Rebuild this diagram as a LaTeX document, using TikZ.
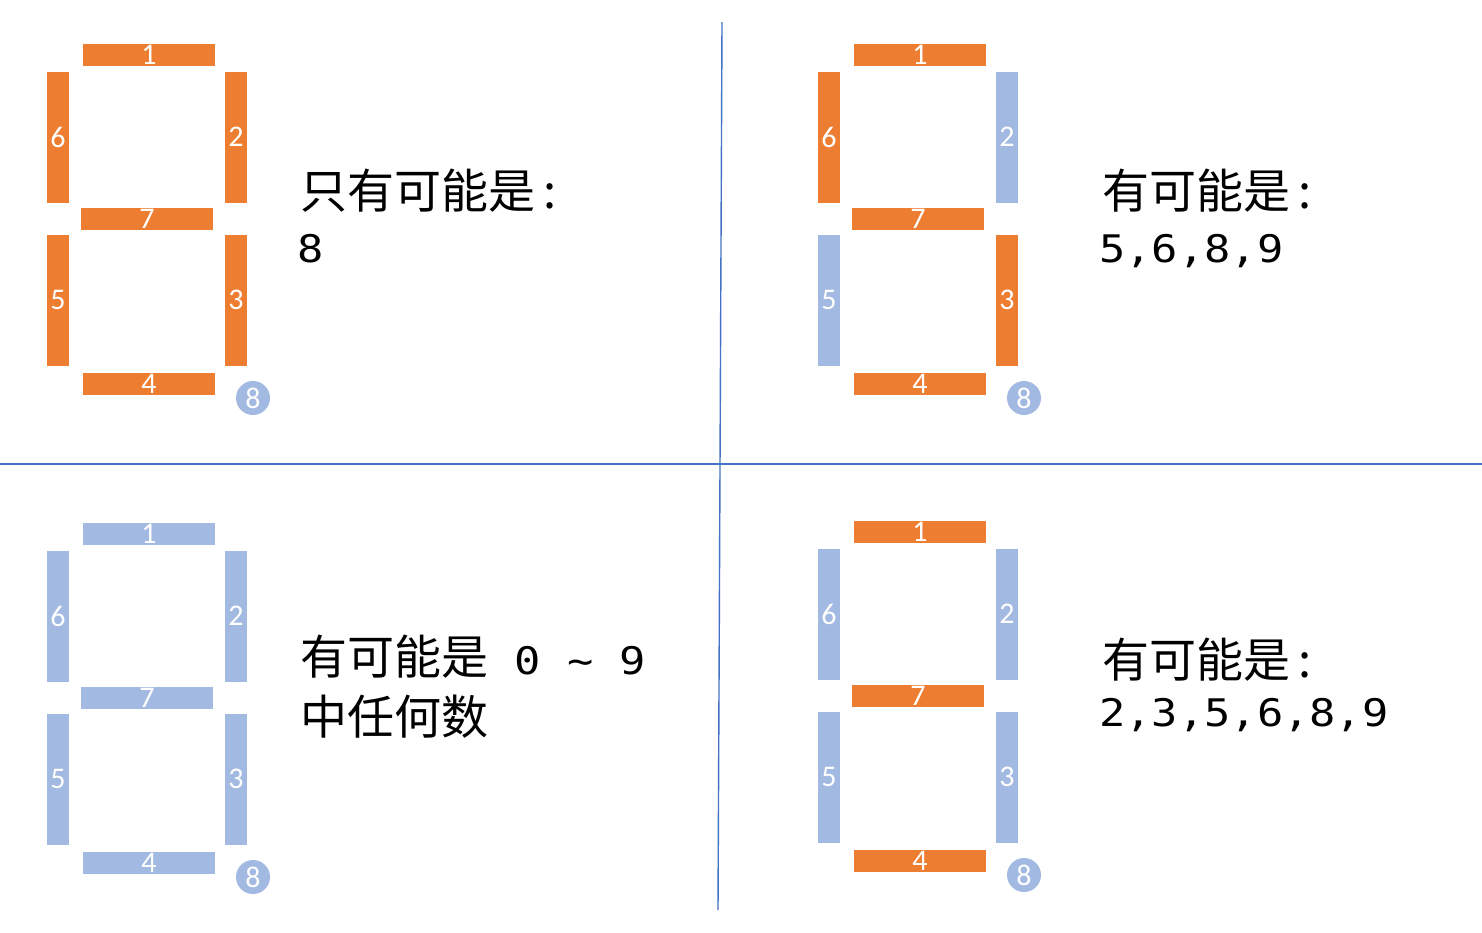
\documentclass[tikz,border=0pt]{standalone}
\usepackage{fontspec}
\newfontfamily\cjkfont{Noto Sans CJK SC}
\newfontfamily\numfont[FakeStretch=1.15]{DejaVu Sans Mono}
\newfontfamily\segfont{Carlito}
\newcommand{\bignums}{\numfont\fontsize{38}{38}\selectfont}
\definecolor{segon}{HTML}{ED7D31}
\definecolor{segoff}{HTML}{A2B9E1}
\definecolor{divider}{HTML}{4472C4}
\tikzset{
  seg/.style={inner sep=0pt, text=white, font=\segfont\fontsize{30}{30}\selectfont},
  hseg/.style={seg, minimum width=132pt, minimum height=22pt},
  vseg/.style={seg, minimum width=22pt, minimum height=131pt},
  dp/.style={seg, circle, fill=segoff, minimum size=34pt},
  hint/.style={anchor=west, inner sep=0pt, font=\cjkfont\fontsize{47}{47}\selectfont},
  nums/.style={anchor=base west, inner sep=0pt, font=\bignums},
}

\begin{document}
\begin{tikzpicture}[x=1pt,y=-1pt]
  \useasboundingbox (0,0) rectangle (1482,932);
  \fill[white] (0,0) rectangle (1482,932);
  % dividers
  \draw[divider, line width=1.4pt] (0,464) -- (1482,464);
  \draw[divider, line width=1.4pt] (722,22) -- (718,910);

  % top left: all on
  \foreach \i/\x/\y/\c in {1/149/55/segon,7/147/219/segon,4/149/384/segon}
    \node[hseg,fill=\c] (a\i) at (\x,\y) {\i};
  \foreach \i/\x/\y/\c in {6/58/137/segon,2/236/137/segon,5/58/300/segon,3/236/300/segon}
    \node[vseg,fill=\c] (a\i) at (\x,\y) {\i};
  \node[dp] (a8) at (253,398) {8};
  \node[hint] (ta) at (300,191) {只有可能是\,:};
  \node[nums] (na) at (297,262) {8};

  % top right
  \begin{scope}[shift={(771,0)}]
    \foreach \i/\x/\y/\c in {1/149/55/segon,7/147/219/segon,4/149/384/segon}
      \node[hseg,fill=\c] (b\i) at (\x,\y) {\i};
    \foreach \i/\x/\y/\c in {6/58/137/segon,2/236/137/segoff,5/58/300/segoff,3/236/300/segon}
      \node[vseg,fill=\c] (b\i) at (\x,\y) {\i};
    \node[dp] (b8) at (253,398) {8};
  \end{scope}
  \node[hint] (tb) at (1102,191) {有可能是\,:};
  \node[nums] (nb) at (1099,262) {5,6,8,9};

  % bottom left: all off
  \begin{scope}[shift={(0,479)}]
    \foreach \i/\x/\y/\c in {1/149/55/segoff,7/147/219/segoff,4/149/384/segoff}
      \node[hseg,fill=\c] (c\i) at (\x,\y) {\i};
    \foreach \i/\x/\y/\c in {6/58/137/segoff,2/236/137/segoff,5/58/300/segoff,3/236/300/segoff}
      \node[vseg,fill=\c] (c\i) at (\x,\y) {\i};
    \node[dp] (c8) at (253,398) {8};
  \end{scope}
  \node[hint] (tc) at (300,657) {有可能是{\bignums\ 0 \textasciitilde\ 9}};
  \node[hint] (nc) at (300,717) {中任何数};

  % bottom right
  \begin{scope}[shift={(771,477)}]
    \foreach \i/\x/\y/\c in {1/149/55/segon,7/147/219/segon,4/149/384/segon}
      \node[hseg,fill=\c] (d\i) at (\x,\y) {\i};
    \foreach \i/\x/\y/\c in {6/58/137/segoff,2/236/137/segoff,5/58/300/segoff,3/236/300/segoff}
      \node[vseg,fill=\c] (d\i) at (\x,\y) {\i};
    \node[dp] (d8) at (253,398) {8};
  \end{scope}
  \node[hint] (td) at (1102,660) {有可能是\,:};
  \node[nums] (nd) at (1099,726) {2,3,5,6,8,9};
\end{tikzpicture}
\end{document}
